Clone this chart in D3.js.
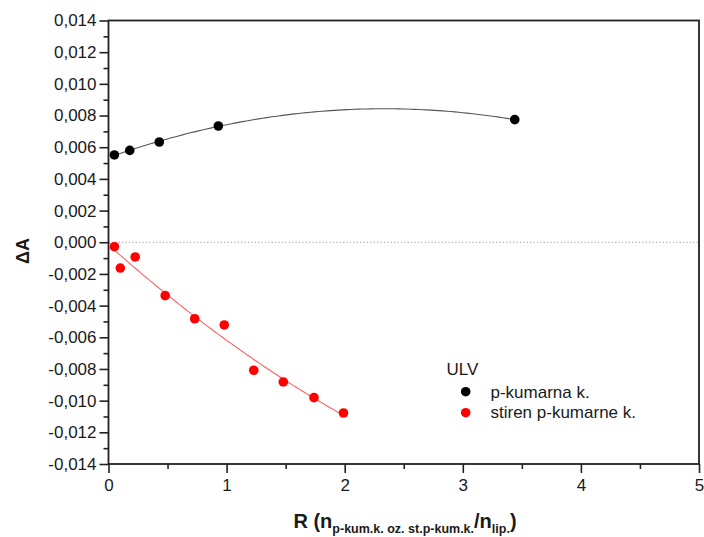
<!DOCTYPE html>
<html><head><meta charset="utf-8">
<script src="https://cdn.jsdelivr.net/npm/d3@7"></script>
<style>
body{margin:0;background:#fff;}
text{font-family:"Liberation Sans",Arial,sans-serif;fill:#1a1a1a;}
</style></head>
<body>
<svg id="c" width="704" height="537"></svg>
<script>
// Data
const seriesNames = ["p-kumarna k.", "stiren p-kumarne k."];
const blackX = [0.05, 0.18, 0.43, 0.93, 3.44];
const blackY = [0.00551, 0.00580, 0.00633, 0.00734, 0.00774];
const redX = [0.05, 0.10, 0.226, 0.48, 0.73, 0.98, 1.23, 1.48, 1.74, 1.99];
const redY = [-0.00028, -0.00163, -0.00093, -0.00337, -0.00483, -0.00522, -0.00808, -0.00882, -0.00981, -0.01078];
const xTicks = [0, 1, 2, 3, 4, 5];
const yTicks = [-0.014, -0.012, -0.010, -0.008, -0.006, -0.004, -0.002, 0, 0.002, 0.004, 0.006, 0.008, 0.010, 0.012, 0.014];

const svg = d3.select("#c");
const L = 108.5, R = 699, T = 20.5, B = 464;
const x = d3.scaleLinear().domain([0, 5]).range([L, R]);
const y = d3.scaleLinear().domain([-0.014, 0.014]).range([B, T]);

const loc = d3.formatLocale({decimal: ",", thousands: ".", grouping: [3], currency: ["", ""], minus: "-"});
const fmt = loc.format(".3f");

// quadratic least squares fit
function quadFit(xs, ys) {
  let n = xs.length, S = [0,0,0,0,0], Sy = [0,0,0];
  for (let i = 0; i < n; i++) {
    let p = 1;
    for (let k = 0; k < 5; k++) { S[k] += p; p *= xs[i]; }
    p = 1;
    for (let k = 0; k < 3; k++) { Sy[k] += ys[i] * p; p *= xs[i]; }
  }
  const A = [[S[0],S[1],S[2],Sy[0]],[S[1],S[2],S[3],Sy[1]],[S[2],S[3],S[4],Sy[2]]];
  for (let i = 0; i < 3; i++) {
    for (let j = i + 1; j < 3; j++) {
      const f = A[j][i] / A[i][i];
      for (let k = i; k < 4; k++) A[j][k] -= f * A[i][k];
    }
  }
  const c = [0,0,0];
  for (let i = 2; i >= 0; i--) {
    let s = A[i][3];
    for (let k = i + 1; k < 3; k++) s -= A[i][k] * c[k];
    c[i] = s / A[i][i];
  }
  return t => c[0] + c[1] * t + c[2] * t * t;
}

// zero line
svg.append("line").attr("x1", x(0)).attr("x2", x(5)).attr("y1", y(0)).attr("y2", y(0))
  .attr("stroke", "#999").attr("stroke-width", 1).attr("stroke-dasharray", "1.2,2.2");

// fits
function fitLine(xs, ys, color) {
  const f = quadFit(xs, ys);
  const x0 = d3.min(xs), x1 = d3.max(xs);
  const pts = d3.range(0, 101).map(i => x0 + (x1 - x0) * i / 100);
  svg.append("path").datum(pts)
    .attr("d", d3.line().x(d => x(d)).y(d => y(f(d))))
    .attr("fill", "none").attr("stroke", color).attr("stroke-width", 1.1);
}
fitLine(blackX, blackY, "#555");
fitLine(redX, redY, "#ff6060");

// axes
const yAxis = d3.axisLeft(y).tickValues(yTicks).tickFormat(fmt).tickSize(9).tickPadding(3);
const yMinor = d3.axisLeft(y).tickValues(d3.range(-13, 14, 2).map(v => v / 1000)).tickFormat("").tickSize(5);
const xAxis = d3.axisBottom(x).tickValues(xTicks).tickFormat(d => d).tickSize(9).tickPadding(6);
const xMinor = d3.axisBottom(x).tickValues([0.5,1.5,2.5,3.5,4.5]).tickFormat("").tickSize(5);

function styleAxis(g) {
  g.select(".domain").remove();
  g.selectAll("line").attr("stroke", "#222").attr("stroke-width", 1.6);
  g.selectAll("text").attr("font-size", 17).attr("fill", "#1a1a1a")
   .attr("font-family", "'Liberation Sans', Arial, sans-serif");
}
svg.append("g").attr("transform", `translate(${L},0)`).call(yAxis).call(styleAxis);
svg.append("g").attr("transform", `translate(${L},0)`).call(yMinor).call(styleAxis);
svg.append("g").attr("transform", `translate(0,${B})`).call(xAxis).call(styleAxis);
svg.append("g").attr("transform", `translate(0,${B})`).call(xMinor).call(styleAxis);

// frame
svg.append("rect").attr("x", L).attr("y", T).attr("width", R - L).attr("height", B - T)
  .attr("fill", "none").attr("stroke", "#222").attr("stroke-width", 1.8);

// points
svg.append("g").selectAll("circle").data(blackX.map((d, i) => [d, blackY[i]])).join("circle")
  .attr("cx", d => x(d[0])).attr("cy", d => y(d[1])).attr("r", 4.8).attr("fill", "#000");
svg.append("g").selectAll("circle").data(redX.map((d, i) => [d, redY[i]])).join("circle")
  .attr("cx", d => x(d[0])).attr("cy", d => y(d[1])).attr("r", 4.8).attr("fill", "#ff0000");

// titles
const xt = svg.append("text").attr("x", 405).attr("y", 528).attr("text-anchor", "middle")
  .attr("font-size", 20).attr("font-weight", "bold");
xt.append("tspan").text("R (n");
xt.append("tspan").attr("font-size", 12.5).attr("dy", 5).text("p-kum.k. oz. st.p-kum.k.");
xt.append("tspan").attr("dy", -5).text("/n");
xt.append("tspan").attr("font-size", 12.5).attr("dy", 5).text("lip.");
xt.append("tspan").attr("dy", -5).text(")");

svg.append("text").attr("transform", "translate(29,251) rotate(-90)").attr("text-anchor", "middle")
  .attr("font-size", 18).attr("font-weight", "bold").text("ΔA");

// legend
svg.append("text").attr("x", 446.5).attr("y", 375).attr("font-size", 17).text("ULV");
const colors = ["#000", "#ff0000"];
seriesNames.forEach((n, i) => {
  svg.append("circle").attr("cx", 465.7).attr("cy", 391.7 + i * 21).attr("r", 4.8).attr("fill", colors[i]);
  svg.append("text").attr("x", 490.5).attr("y", 397.5 + i * 20.5).attr("font-size", 17).text(n);
});
</script>
</body></html>
